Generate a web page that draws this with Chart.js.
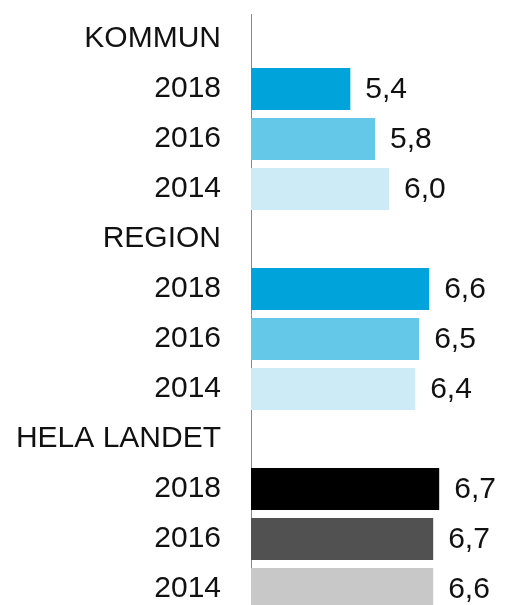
<!DOCTYPE html>
<html>
<head>
<meta charset="utf-8">
<script src="https://cdn.jsdelivr.net/npm/chart.js@4/dist/chart.umd.min.js"></script>
<style>
  html, body { margin: 0; padding: 0; background: #fff; overflow: hidden; }
  canvas { display: block; }
</style>
</head>
<body>
<canvas id="chart" width="505" height="614"></canvas>
<script>
// rows, top to bottom (group headings have no bar)
const categories = ["KOMMUN", "2018", "2016", "2014", "REGION", "2018", "2016", "2014", "HELA LANDET", "2018", "2016", "2014"];
// values
const values = [null, 5.42, 5.79, 6.00, null, 6.60, 6.45, 6.39, null, 6.75, 6.66, 6.66];
// labels as printed next to the bars
const valueLabels = ["", "5,4", "5,8", "6,0", "", "6,6", "6,5", "6,4", "", "6,7", "6,7", "6,6"];
const barColors = [
  "#fff", "#00a4db", "#64c8e8", "#cdebf6",
  "#fff", "#00a4db", "#64c8e8", "#cdebf6",
  "#fff", "#000000", "#515151", "#c8c8c8"
];

const FONT = "Liberation Sans, Arial, sans-serif";

// draws the value text right of each bar
const valueLabelPlugin = {
  id: "valueLabels",
  afterDatasetsDraw(chart) {
    const c = chart.ctx;
    const meta = chart.getDatasetMeta(0);
    c.save();
    c.font = "30px " + FONT;
    c.fillStyle = "#111";
    c.textBaseline = "middle";
    c.textAlign = "left";
    meta.data.forEach((bar, i) => {
      if (values[i] == null) return;
      c.fillText(valueLabels[i], bar.x + 15, bar.y + 1);
    });
    c.restore();
  }
};

new Chart(document.getElementById("chart"), {
  type: "bar",
  data: {
    labels: categories,
    datasets: [{
      data: values,
      backgroundColor: barColors,
      borderWidth: 0,
      barPercentage: 0.84,
      categoryPercentage: 1
    }]
  },
  plugins: [valueLabelPlugin],
  options: {
    indexAxis: "y",
    responsive: false,
    animation: false,
    layout: { padding: { top: 14, right: 0, bottom: 0, left: 0 } },
    plugins: {
      legend: { display: false },
      tooltip: { enabled: false }
    },
    scales: {
      x: {
        display: false,
        min: 3.933,
        max: 7.735
      },
      y: {
        z: 1,
        afterFit: (scale) => {
          scale.width = 251;
          scale.paddingTop = 0;
          scale.paddingBottom = 0;
        },
        grid: { display: false, drawTicks: false },
        border: { display: true, color: "#8a8a8a", width: 1 },
        ticks: {
          padding: 30,
          color: "#111",
          font: { family: FONT, size: 30 }
        }
      }
    }
  }
});
</script>
</body>
</html>
